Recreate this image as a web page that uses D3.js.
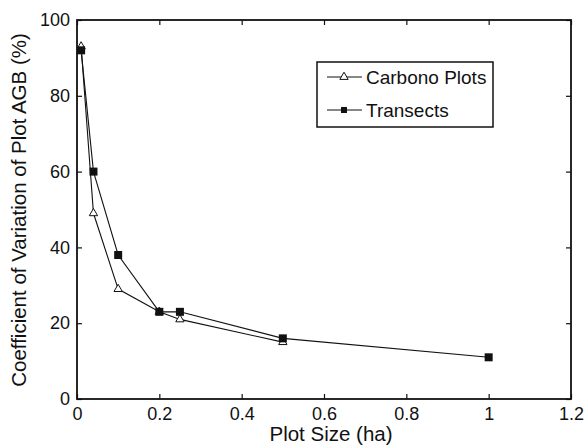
<!DOCTYPE html>
<html><head><meta charset="utf-8">
<script src="https://cdn.jsdelivr.net/npm/d3@7"></script>
<style>body{margin:0;background:#fff}svg{font-family:"Liberation Sans",Arial,sans-serif}</style>
</head><body><svg id="c" width="588" height="448"></svg>
<script>
const carbonoX = [0.01, 0.04, 0.1, 0.2, 0.25, 0.5];
const carbonoY = [93, 49, 29, 23, 21, 15];
const transX = [0.01, 0.04, 0.1, 0.2, 0.25, 0.5, 1.0];
const transY = [92, 60, 38, 23, 23, 16, 11];
const xTicks = [0, 0.2, 0.4, 0.6, 0.8, 1, 1.2];
const yTicks = [0, 20, 40, 60, 80, 100];
const seriesNames = ["Carbono Plots", "Transects"];

const svg = d3.select("#c");
const L = 77, R = 571, T = 20, B = 399;
const x = d3.scaleLinear().domain([0, 1.2]).range([L, R]);
const y = d3.scaleLinear().domain([0, 100]).range([B, T]);
const ink = "#111";

const gx = svg.append("g").attr("transform", `translate(0,${B})`)
  .call(d3.axisBottom(x).tickValues(xTicks).tickFormat(d3.format("~g")).tickSizeInner(-5).tickSizeOuter(0).tickPadding(8));
const gxt = svg.append("g").attr("transform", `translate(0,${T})`)
  .call(d3.axisTop(x).tickValues(xTicks).tickFormat("").tickSizeInner(-5).tickSizeOuter(0));
const gy = svg.append("g").attr("transform", `translate(${L},0)`)
  .call(d3.axisLeft(y).tickValues(yTicks).tickSizeInner(-5).tickSizeOuter(0).tickPadding(7));
const gyr = svg.append("g").attr("transform", `translate(${R},0)`)
  .call(d3.axisRight(y).tickValues(yTicks).tickFormat("").tickSizeInner(-5).tickSizeOuter(0));
[gx, gxt, gy, gyr].forEach(g => {
  g.select(".domain").remove();
  g.selectAll("line").attr("stroke", ink).attr("stroke-width", 1.2);
  g.selectAll("text").attr("fill", ink).attr("font-size", 18).attr("font-family", "Liberation Sans, Arial, sans-serif");
});
svg.append("rect").attr("x", L).attr("y", T).attr("width", R - L).attr("height", B - T)
  .attr("fill", "none").attr("stroke", ink).attr("stroke-width", 1.8);

const line = d3.line().x(d => x(d[0])).y(d => y(d[1]));
const cData = carbonoX.map((v, i) => [v, carbonoY[i]]);
const tData = transX.map((v, i) => [v, transY[i]]);

svg.append("path").datum(cData).attr("d", line).attr("fill", "none").attr("stroke", ink).attr("stroke-width", 1.1);
svg.append("path").datum(tData).attr("d", line).attr("fill", "none").attr("stroke", ink).attr("stroke-width", 1.1);

const tri = d3.symbol().type(d3.symbolTriangle).size(30);
const sq = d3.symbol().type(d3.symbolSquare).size(64);
svg.append("g").selectAll("path").data(cData).join("path")
  .attr("transform", d => `translate(${x(d[0])},${y(d[1])})`).attr("d", tri)
  .attr("fill", "#fff").attr("stroke", ink).attr("stroke-width", 1);
svg.append("g").selectAll("path").data(tData).join("path")
  .attr("transform", d => `translate(${x(d[0])},${y(d[1])})`).attr("d", sq)
  .attr("fill", ink);

const lg = svg.append("g");
lg.append("rect").attr("x", 317).attr("y", 62).attr("width", 176).attr("height", 65)
  .attr("fill", "#fff").attr("stroke", ink).attr("stroke-width", 1.5);
const ly = [77, 110];
seriesNames.forEach((n, i) => {
  lg.append("line").attr("x1", 327).attr("x2", 362).attr("y1", ly[i]).attr("y2", ly[i]).attr("stroke", ink).attr("stroke-width", 1.1);
  lg.append("path").attr("transform", `translate(344,${ly[i]})`).attr("d", i === 0 ? tri : d3.symbol().type(d3.symbolSquare).size(36))
    .attr("fill", i === 0 ? "#fff" : ink).attr("stroke", i === 0 ? ink : "none");
  lg.append("text").attr("x", 366).attr("y", ly[i]).attr("dy", "0.36em").attr("font-size", 19).attr("fill", ink).text(n);
});

svg.append("text").attr("x", 331).attr("y", 441).attr("text-anchor", "middle").attr("font-size", 20.5).attr("fill", ink).text("Plot Size (ha)");
svg.append("text").attr("transform", "translate(26,210) rotate(-90)").attr("text-anchor", "middle").attr("font-size", 20.5).attr("fill", ink)
  .text("Coefficient of Variation of Plot AGB (%)");
</script></body></html>
